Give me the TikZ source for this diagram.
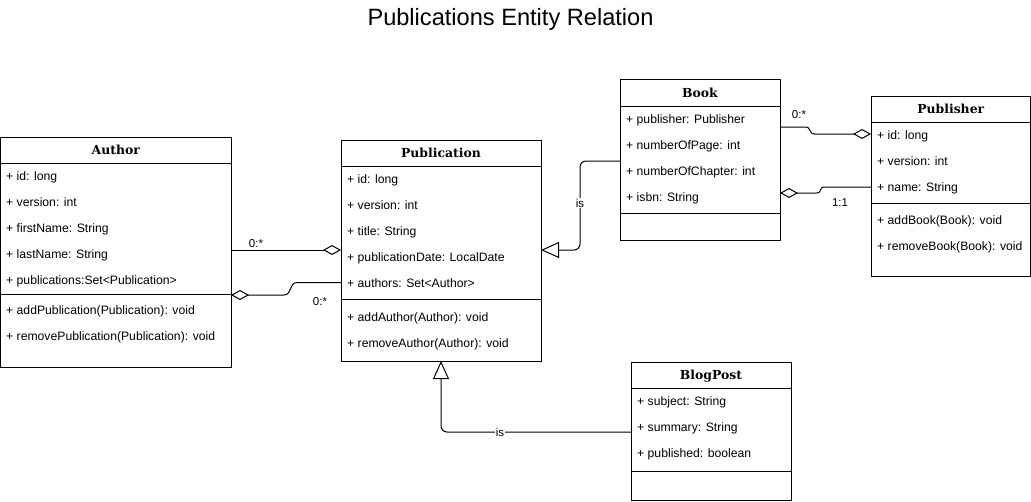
\documentclass[tikz,border=0pt]{standalone}
\usepackage{fontspec}
\setmainfont{Liberation Sans}
\newfontfamily\hdrfont{DejaVu Serif}
\usetikzlibrary{arrows.meta}
\tikzset{
  cls/.style={draw, line width=1pt, anchor=north west, inner sep=0pt, outer sep=0pt},
  attr/.style={anchor=base west, inner sep=0pt, font=\fontsize{12.2}{14}\selectfont},
  hdr/.style={anchor=base, inner sep=0pt, font=\hdrfont\bfseries\fontsize{12.4}{14}\selectfont},
  lbl/.style={font=\fontsize{11.5}{13}\selectfont, inner sep=1pt},
  islbl/.style={lbl, fill=white, inner sep=0.5pt},
  sepline/.style={line width=1pt},
  conn/.style={line width=1pt},
  agg/.style={conn, -{Diamond[fill=white, length=18pt, width=10pt]}},
  gen/.style={conn, rounded corners=6pt, -{Triangle[fill=white, length=18pt, width=16pt]}}
}
\begin{document}
\begin{tikzpicture}[x=1pt, y=-1pt]
\useasboundingbox (0,0) rectangle (1031,501);
% title
\node[anchor=base, inner sep=0pt, font=\fontsize{23.6}{27}\selectfont] (title) at (510.5,25.5) {Publications Entity Relation};

% Author
\node[cls, minimum width=230.5pt, minimum height=230pt] (author) at (0.5,137) {};
\draw[sepline] (0.5,163) -- (231,163);
\draw[sepline] (0.5,294) -- (231,294);
\node[hdr] (authorT) at (115.75,154.5) {Author};
\node[attr] (a1) at (6,180) {+ id: long};
\node[attr] (a2) at (6,206) {+ version: int};
\node[attr] (a3) at (6,232) {+ firstName: String};
\node[attr] (a4) at (6,258) {+ lastName: String};
\node[attr] (a5) at (6,284) {+ publications:Set<Publication>};
\node[attr] (a6) at (6,314) {+ addPublication(Publication): void};
\node[attr] (a7) at (6,340) {+ removePublication(Publication): void};

% Publication
\node[cls, minimum width=200pt, minimum height=221pt] (pub) at (341,140) {};
\draw[sepline] (341,166) -- (541,166);
\draw[sepline] (341,299) -- (541,299);
\node[hdr] (pubT) at (441,157.5) {Publication};
\node[attr] (p1) at (347,183) {+ id: long};
\node[attr] (p2) at (347,209) {+ version: int};
\node[attr] (p3) at (347,235) {+ title: String};
\node[attr] (p4) at (347,261) {+ publicationDate: LocalDate};
\node[attr] (p5) at (347,287) {+ authors: Set<Author>};
\node[attr] (p6) at (347,321) {+ addAuthor(Author): void};
\node[attr] (p7) at (347,347) {+ removeAuthor(Author): void};

% Book
\node[cls, minimum width=160pt, minimum height=161pt] (book) at (620,79) {};
\draw[sepline] (620,106) -- (780,106);
\draw[sepline] (620,213) -- (780,213);
\node[hdr] (bookT) at (700,97) {Book};
\node[attr] (b1) at (626,123) {+ publisher: Publisher};
\node[attr] (b2) at (626,149) {+ numberOfPage: int};
\node[attr] (b3) at (626,175) {+ numberOfChapter: int};
\node[attr] (b4) at (626,201) {+ isbn: String};

% Publisher
\node[cls, minimum width=159.5pt, minimum height=180pt] (publisher) at (871,96) {};
\draw[sepline] (871,122) -- (1030.5,122);
\draw[sepline] (871,203) -- (1030.5,203);
\node[hdr] (publisherT) at (950.75,113.5) {Publisher};
\node[attr] (r1) at (877,139) {+ id: long};
\node[attr] (r2) at (877,165) {+ version: int};
\node[attr] (r3) at (877,191) {+ name: String};
\node[attr] (r4) at (877,224) {+ addBook(Book): void};
\node[attr] (r5) at (877,250) {+ removeBook(Book): void};

% BlogPost
\node[cls, minimum width=160pt, minimum height=138pt] (blog) at (631,362) {};
\draw[sepline] (631,388) -- (791,388);
\draw[sepline] (631,471) -- (791,471);
\node[hdr] (blogT) at (711,379.5) {BlogPost};
\node[attr] (g1) at (637,405) {+ subject: String};
\node[attr] (g2) at (637,431) {+ summary: String};
\node[attr] (g3) at (637,457) {+ published: boolean};

% connector attachment points
\coordinate (c1s) at (author.east |- 0,250);
\coordinate (c1e) at (pub.west |- 0,250);
\coordinate (c2s) at (pub.west |- 0,282.5);
\coordinate (c2e) at (author.east |- 0,295);
\coordinate (c3s) at (book.east |- 0,127);
\coordinate (c3e) at (publisher.west |- 0,134);
\coordinate (c4s) at (publisher.west |- 0,187);
\coordinate (c4e) at (book.east |- 0,193);
\coordinate (c5s) at (book.west |- 0,161);
\coordinate (c5m) at (580,250);
\coordinate (c5e) at (pub.east |- 0,250);
\coordinate (c6s) at (blog.west |- 0,432);

% aggregations
\draw[agg] (c1s) -- (c1e);
\draw[agg] (c2s) -- (297,282.5) .. controls (289,282.5) and (292,295) .. (284,295) -- (c2e);
\draw[agg] (c3s) -- (805,127) .. controls (812,127) and (808,134) .. (815,134) -- (c3e);
\draw[agg] (c4s) -- (825,187) .. controls (818,187) and (823,193) .. (816,193) -- (c4e);

% generalizations
\draw[gen] (c5s) -| (c5m) -- (c5e);
\draw[gen] (c6s) -| (pub.south);

% labels
\node[lbl] (l1) at (256,244) {0:*};
\node[lbl] (l2) at (320,302) {0:*};
\node[lbl] (l3) at (799,115) {0:*};
\node[lbl] (l4) at (840,203) {1:1};
\node[islbl] (l5) at (580,203) {is};
\node[islbl] (l6) at (500,432) {is};
\end{tikzpicture}
\end{document}
